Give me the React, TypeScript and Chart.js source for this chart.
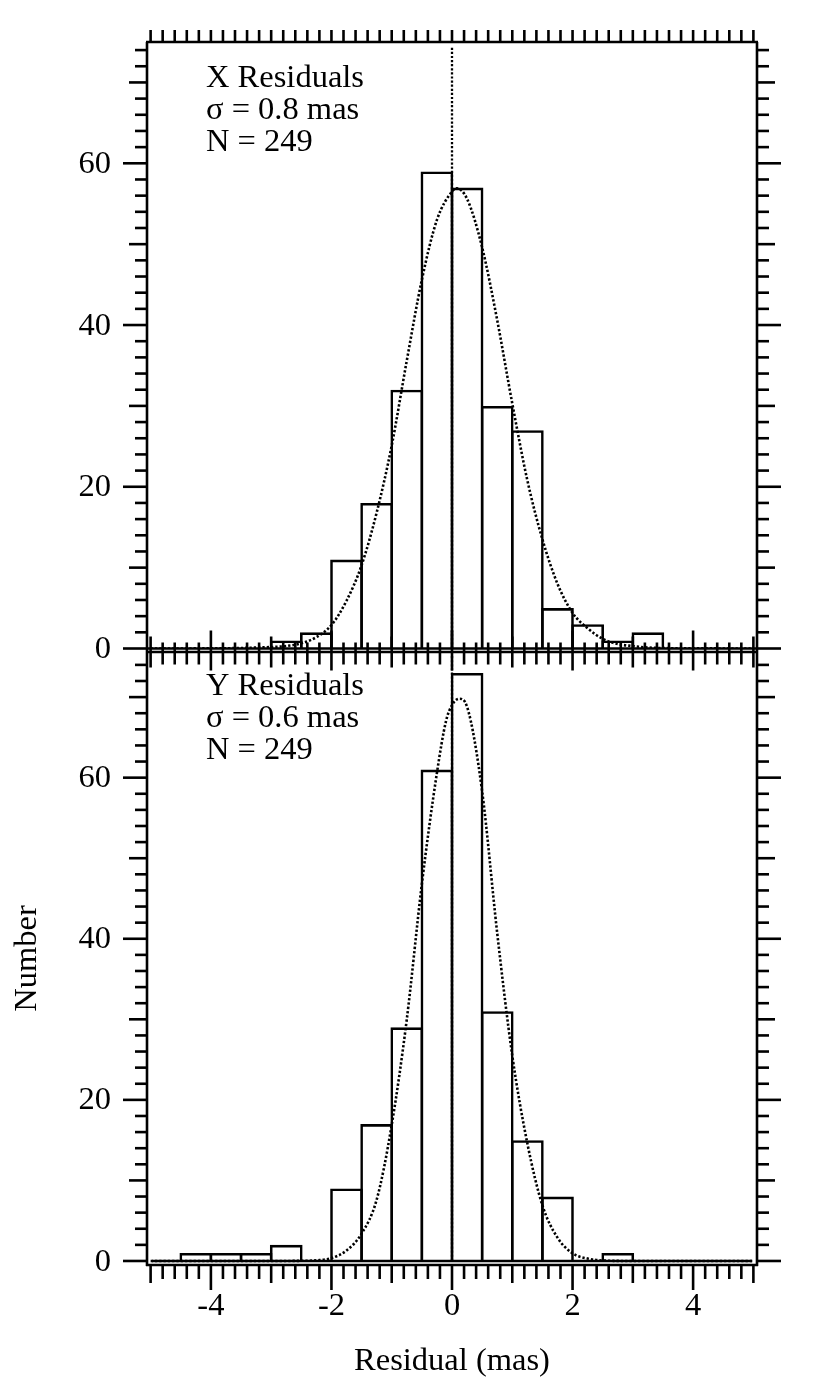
import React, { useEffect, useRef } from 'react';
import { Chart, registerables } from 'chart.js';

Chart.register(...registerables);

// ---------------- data ----------------
const BIN_WIDTH = 0.5;

// X residual histogram (top panel)
const xBinStarts = [-3, -2.5, -2, -1.5, -1, -0.5, 0, 0.5, 1, 1.5, 2, 2.5, 3];
const xCounts = [1, 2, 11, 18, 32, 59, 57, 30, 27, 5, 3, 1, 2];

// Y residual histogram (bottom panel)
const yBinStarts = [-4.5, -4, -3.5, -3, -2.5, -2, -1.5, -1, -0.5, 0, 0.5, 1, 1.5, 2, 2.5];
const yCounts = [1, 1, 1, 2, 0, 9, 17, 29, 61, 73, 31, 15, 8, 0, 1];

// fitted curves
const xFitX = [-5, -4, -3.5, -3.25, -3, -2.75, -2.5, -2.25, -2, -1.75, -1.5, -1.25, -1, -0.75, -0.5, -0.25, 0, 0.08, 0.25, 0.5, 0.75, 1, 1.25, 1.5, 1.75, 2, 2.25, 2.5, 2.75, 3, 3.25, 3.5, 4, 5];
const xFitY = [0, 0.02, 0.06, 0.12, 0.18, 0.3, 0.65, 1.4, 2.9, 5.9, 10.3, 16.8, 25.1, 35.6, 45.6, 53.0, 56.5, 56.9, 55.6, 49.6, 40.6, 30.3, 20.8, 13.5, 8.0, 4.4, 2.5, 1.2, 0.55, 0.3, 0.12, 0.05, 0.02, 0];

const yFitX = [-5, -4, -3, -2.5, -2.25, -2, -1.75, -1.5, -1.25, -1, -0.75, -0.5, -0.25, -0.1, 0, 0.12, 0.25, 0.5, 0.75, 1, 1.25, 1.5, 1.75, 2, 2.25, 2.5, 3, 4, 5];
const yFitY = [0, 0, 0, 0.02, 0.08, 0.35, 1.3, 3.4, 7.6, 16.9, 30.0, 46.8, 60.6, 67.0, 69.0, 69.8, 68.8, 58.3, 40.7, 25.5, 14.6, 6.9, 2.9, 0.95, 0.3, 0.06, 0, 0, 0];

// axis ticks / labels
const xTickValues = [-4, -2, 0, 2, 4];
const xTickLabels = ['-4', '-2', '0', '2', '4'];
const yTickValues = [0, 20, 40, 60];
const yTickLabels = ['0', '20', '40', '60'];

const topTextLines = ['X Residuals', 'σ = 0.8 mas', 'N = 249'];
const bottomTextLines = ['Y Residuals', 'σ = 0.6 mas', 'N = 249'];
const xAxisTitle = 'Residual (mas)';
const yAxisTitle = 'Number';

// ---------------- layout ----------------
const W = 830;
const H = 1386;
const PLOT_L = 147;
const PLOT_R = 757;
const TOP_T = 42;
const TOP_B = 648.5;
const BOT_T = 652;
const BOT_B = 1265;
const X_MIN = -5.06;
const X_MAX = 5.06;
const TOP_YMIN = 0;
const TOP_YMAX = 75;
const BOT_YMIN = -0.5;
const BOT_YMAX = 75.6;
const INK = '#000';
const FONT = '"Liberation Serif", "Times New Roman", Times, serif';
const FS = 32.5;
const LW = 2.6;

type Panel = 'top' | 'bottom';

function axesPlugin(panel: Panel) {
  return {
    id: 'frameAxes_' + panel,
    afterDraw(chart: any) {
      const ctx: CanvasRenderingContext2D = chart.ctx;
      const xs = chart.scales.x;
      const ys = chart.scales.y;
      const { left, right, top, bottom } = chart.chartArea;
      ctx.save();
      ctx.strokeStyle = INK;
      ctx.fillStyle = INK;
      ctx.lineWidth = LW;
      ctx.lineCap = 'butt';
      const line = (x1: number, y1: number, x2: number, y2: number) => {
        ctx.beginPath();
        ctx.moveTo(x1, y1);
        ctx.lineTo(x2, y2);
        ctx.stroke();
      };

      // frame
      if (panel === 'top') {
        line(left - 1, top, right + 1, top);
        line(left, top, left, bottom + 3.5);
        line(right, top, right, bottom + 3.5);
        line(left, bottom, right, bottom);
      } else {
        line(left - 1, top, right + 1, top);
        line(left, top, left, bottom + 1);
        line(right, top, right, bottom + 1);
        line(left - 1, bottom, right + 1, bottom);
      }

      // y ticks (both sides, outward)
      for (let v = 0; v <= ys.max; v += 2) {
        const py = ys.getPixelForValue(v);
        const len = v % 20 === 0 ? 24 : v % 10 === 0 ? 18 : 12;
        line(left - len, py, left, py);
        line(right, py, right + len, py);
      }

      // x ticks
      for (let i = -25; i <= 25; i++) {
        const v = i * 0.2;
        const px = xs.getPixelForValue(v);
        const kind = i % 10 === 0 ? 2 : i % 5 === 0 ? 1 : 0;
        if (panel === 'top') {
          line(px, top - 12, px, top);
          const y0 = ys.getPixelForValue(0);
          if (kind === 2) line(px, y0 - 18, px, y0 + 22);
          else if (kind === 1) line(px, y0 - 12, px, y0 + 19);
          else line(px, y0 - 6, px, y0 + 16);
        } else {
          const len = kind === 2 ? 25 : kind === 1 ? 18 : 14;
          line(px, bottom, px, bottom + len);
        }
      }

      // y labels
      ctx.font = `${FS}px ${FONT}`;
      ctx.textAlign = 'right';
      ctx.textBaseline = 'middle';
      yTickValues.forEach((v, k) => {
        ctx.fillText(yTickLabels[k], left - 36, ys.getPixelForValue(v) + 1);
      });

      // panel text
      const lines = panel === 'top' ? topTextLines : bottomTextLines;
      const firstY = panel === 'top' ? 78 : 686;
      ctx.textAlign = 'left';
      lines.forEach((t, k) => ctx.fillText(t, 206, firstY + k * 32));

      if (panel === 'bottom') {
        ctx.textAlign = 'center';
        ctx.textBaseline = 'middle';
        xTickValues.forEach((v, k) => {
          ctx.fillText(xTickLabels[k], xs.getPixelForValue(v), bottom + 41);
        });
        ctx.fillText(xAxisTitle, (left + right) / 2, bottom + 96);
        ctx.save();
        ctx.translate(27, (top + bottom) / 2);
        ctx.rotate(-Math.PI / 2);
        ctx.fillText(yAxisTitle, 0, 0);
        ctx.restore();
      }
      ctx.restore();
    },
  };
}

function makePanel(canvas: HTMLCanvasElement, panel: Panel) {
  const starts = panel === 'top' ? xBinStarts : yBinStarts;
  const counts = panel === 'top' ? xCounts : yCounts;
  const fx = panel === 'top' ? xFitX : yFitX;
  const fy = panel === 'top' ? xFitY : yFitY;
  const yMin = panel === 'top' ? TOP_YMIN : BOT_YMIN;
  const yMax = panel === 'top' ? TOP_YMAX : BOT_YMAX;
  const areaTop = panel === 'top' ? TOP_T : BOT_T;
  const areaBottom = panel === 'top' ? TOP_B : BOT_B;

  const bars = starts
    .map((s, i) => ({ x: s + BIN_WIDTH / 2, y: counts[i] }))
    .filter((d) => d.y > 0);
  const fit = fx.map((x, i) => ({ x, y: fy[i] }));

  const pxPerBin = ((PLOT_R - PLOT_L) / (X_MAX - X_MIN)) * BIN_WIDTH;
  const barPct = 1 + LW / pxPerBin;

  const datasets: any[] = [
    {
      type: 'bar',
      data: bars,
      backgroundColor: 'rgba(0,0,0,0)',
      borderColor: INK,
      borderWidth: LW,
      borderSkipped: 'start',
      barPercentage: barPct,
      categoryPercentage: 1,
      inflateAmount: 0,
      order: 3,
    },
    {
      type: 'line',
      data: fit,
      borderColor: INK,
      borderWidth: 2.6,
      borderDash: [2.3, 2],
      pointRadius: 0,
      cubicInterpolationMode: 'monotone',
      fill: false,
      order: 1,
    },
    {
      type: 'line',
      data: [
        { x: 0, y: 0 },
        { x: 0, y: yMax - 0.5 },
      ],
      borderColor: INK,
      borderWidth: 2.3,
      borderDash: [2.2, 1.9],
      pointRadius: 0,
      fill: false,
      order: 2,
    },
  ];
  if (panel === 'bottom') {
    datasets.push({
      type: 'line',
      data: [
        { x: -4.98, y: 0 },
        { x: 4.98, y: 0 },
      ],
      borderColor: INK,
      borderWidth: LW,
      pointRadius: 0,
      fill: false,
      order: 4,
    });
  }

  return new Chart(canvas, {
    type: 'bar',
    data: { datasets },
    options: {
      responsive: false,
      animation: false,
      events: [],
      layout: {
        padding: { left: PLOT_L, right: W - PLOT_R, top: areaTop, bottom: H - areaBottom },
      },
      plugins: {
        legend: { display: false },
        tooltip: { enabled: false },
        title: { display: false },
      },
      scales: {
        x: { type: 'linear', min: X_MIN, max: X_MAX, display: false, offset: false },
        y: { type: 'linear', min: yMin, max: yMax, display: false },
      },
    } as any,
    plugins: [axesPlugin(panel)],
  } as any);
}

export default function App() {
  const topRef = useRef<HTMLCanvasElement>(null);
  const botRef = useRef<HTMLCanvasElement>(null);
  useEffect(() => {
    const c1 = makePanel(topRef.current as HTMLCanvasElement, 'top');
    const c2 = makePanel(botRef.current as HTMLCanvasElement, 'bottom');
    return () => {
      c1.destroy();
      c2.destroy();
    };
  }, []);
  const cs: React.CSSProperties = { position: 'absolute', left: 0, top: 0, width: W, height: H };
  return (
    <div style={{ position: 'absolute', left: 0, top: 0, width: W, height: H, background: '#fff', overflow: 'hidden' }}>
      <canvas ref={topRef} width={W} height={H} style={cs} />
      <canvas ref={botRef} width={W} height={H} style={cs} />
    </div>
  );
}
